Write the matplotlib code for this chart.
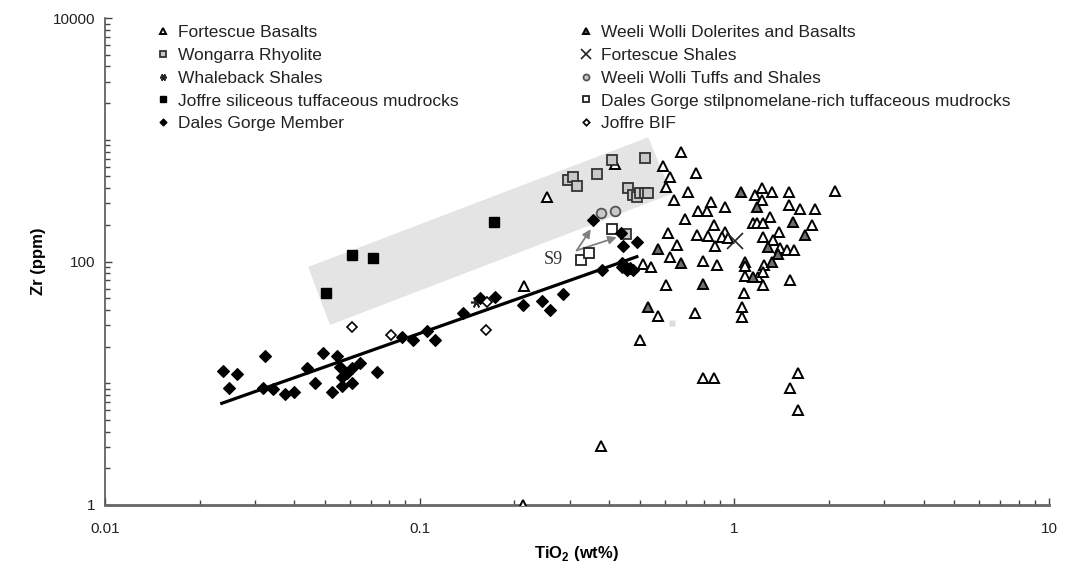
import numpy as np
import matplotlib
matplotlib.use("Agg")
import matplotlib.pyplot as plt
from matplotlib.ticker import LogLocator, NullFormatter, FixedLocator

plt.rcParams["font.family"] = ["Liberation Sans", "DejaVu Sans"]
plt.rcParams["mathtext.fontset"] = "custom"
plt.rcParams["mathtext.bf"] = "Liberation Sans:bold"
plt.rcParams["mathtext.rm"] = "Liberation Sans"

# ---- data (TiO2 wt%, Zr ppm) ----
fortescue_basalts_x = [0.213, 0.377, 0.253, 0.418, 0.214, 0.595, 0.625, 0.676, 0.757, 0.606,
                       0.714, 0.645, 0.841, 0.768, 0.820, 0.934, 0.697, 0.861, 0.614, 0.759,
                       0.827, 0.934, 0.911, 0.868, 0.957, 0.656, 0.625, 0.511, 0.542, 0.796,
                       0.883, 0.605, 0.573, 0.750, 0.501, 1.163, 1.222, 1.314, 1.491, 1.222,
                       1.491, 1.616, 1.808, 1.298, 1.143, 1.182, 1.230, 1.769, 1.390, 1.237,
                       1.330, 1.397, 1.467, 1.547, 1.081, 1.081, 1.242, 1.081, 1.191, 1.237,
                       1.230, 1.502, 1.076, 1.061, 1.061, 2.088, 1.596, 1.502, 1.596, 0.796,
                       0.861]
fortescue_basalts_y = [1.0, 3.05, 341, 632, 63.5, 609, 497, 789, 536, 407,
                       375, 320, 310, 262, 262, 282, 222, 200, 173, 165,
                       162, 176, 160, 134, 155, 136, 108, 95.4, 90.7, 101.5,
                       93.6, 64.1, 35.9, 38.0, 22.7, 352, 399, 370, 375, 320,
                       291, 269, 269, 233, 208, 208, 208, 201, 176, 160,
                       150, 128.5, 124.3, 124.3, 99.6, 91.9, 93.6, 76.0, 75.1, 82.5,
                       64.1, 70.5, 54.8, 42.5, 35.2, 382, 12.07, 9.09, 6.03, 10.98,
                       10.98]

weeli_dolerites_x = [0.572, 0.676, 0.796, 0.531, 1.047, 1.177, 1.539, 1.676, 1.282, 1.379, 1.314, 1.148]
weeli_dolerites_y = [127.5, 96.7, 65.0, 42.3, 375, 282, 212, 164, 132, 115, 99.6, 75.1]

wongarra_x = [0.297, 0.306, 0.316, 0.367, 0.408, 0.520, 0.460, 0.477, 0.490, 0.501, 0.520, 0.533, 0.452]
wongarra_y = [467, 492, 417, 523, 682, 704, 399, 352, 341, 363, 363, 363, 168]

fortescue_shales_x = [1.005]
fortescue_shales_y = [147]

whaleback_x = [0.151]
whaleback_y = [46.8]

weeli_tuffs_x = [0.377, 0.418]
weeli_tuffs_y = [252, 262]

joffre_tuff_x = [0.0608, 0.0709, 0.0504, 0.1727]
joffre_tuff_y = [113, 107.5, 54.8, 210]

dales_stilp_x = [0.408, 0.326, 0.346]
dales_stilp_y = [184, 103, 118]

dales_member_x = [0.0237, 0.0262, 0.0247, 0.0323, 0.0317, 0.0341, 0.0373, 0.0400, 0.0439, 0.0465,
                  0.0494, 0.0545, 0.0525, 0.0558, 0.0565, 0.0586, 0.0608, 0.0565, 0.0608, 0.0646,
                  0.0733, 0.0879, 0.0954, 0.1053, 0.1121, 0.137, 0.1555, 0.1735, 0.2135, 0.2443,
                  0.2596, 0.2861, 0.3788, 0.4387, 0.455, 0.4775, 0.4438, 0.4364, 0.4895, 0.3547,
                  0.466, 0.4387]
dales_member_y = [12.6, 11.98, 9.19, 16.65, 9.19, 8.97, 8.12, 8.52, 13.27, 10.0,
                  17.6, 16.65, 8.52, 13.68, 11.19, 12.07, 13.27, 9.55, 10.0, 14.59,
                  12.44, 23.85, 22.66, 27.0, 22.66, 38.0, 49.9, 51.4, 43.9, 47.7,
                  40.0, 54.1, 85.2, 90.7, 85.2, 85.2, 134.9, 170.5, 144.6, 219,
                  88.0, 96.7]

joffre_bif_x = [0.0608, 0.0809, 0.1633, 0.1628]
joffre_bif_y = [29.0, 25.1, 46.5, 27.2]

stray_x = [0.632]
stray_y = [31.1]

# regression through Dales Gorge Member
fit_x = [0.0235, 0.49]
fit_y = [6.84, 109.5]

# shaded field (corners)
field_x = [0.0442, 0.5327, 0.632, 0.0519]
field_y = [90.2, 1048, 358.5, 30.1]

# S9 arrows
s9_from = (0.3155, 123.2)
s9_to = [(0.3497, 183.9), (0.4227, 158.1)]
s9_label = (0.266, 102.9)

fig = plt.figure(figsize=(10.69, 5.77), dpi=100)
ax = fig.add_axes([105 / 1069, 72 / 577, 944 / 1069, 487 / 577])
ax.set_xscale("log")
ax.set_yscale("log")
ax.set_xlim(0.01, 10)
ax.set_ylim(1, 10000)

ax.fill(field_x, field_y, color="#e4e4e4", lw=0, zorder=1)
ax.plot(fit_x, fit_y, color="black", lw=2.3, zorder=3)

for tx, ty in s9_to:
    ax.annotate("", xy=(tx, ty), xytext=s9_from,
                arrowprops=dict(arrowstyle="-|>", color="#808080", lw=1.3,
                                mutation_scale=12, shrinkA=0, shrinkB=0), zorder=4)
ax.text(s9_label[0], s9_label[1], "S9", family=["Liberation Serif", "DejaVu Serif"],
        fontsize=13, color="#333333", ha="center", va="center", zorder=5)

h = {}
h["fb"], = ax.plot(fortescue_basalts_x, fortescue_basalts_y, ls="none", marker="^", ms=7.5,
                   mfc="white", mec="black", mew=1.4, label="Fortescue Basalts", zorder=5)
h["wr"], = ax.plot(wongarra_x, wongarra_y, ls="none", marker="s", ms=7,
                   mfc="#c8c8c8", mec="#333333", mew=1.3, label="Wongarra Rhyolite", zorder=5)
h["ws"], = ax.plot(whaleback_x, whaleback_y, ls="none", marker=(6, 2, 90), ms=8,
                   mec="#222222", mew=1.2, label="Whaleback Shales", zorder=6)
h["jt"], = ax.plot(joffre_tuff_x, joffre_tuff_y, ls="none", marker="s", ms=7.5,
                   mfc="black", mec="black", mew=1, label="Joffre siliceous tuffaceous mudrocks", zorder=5)
h["dm"], = ax.plot(dales_member_x, dales_member_y, ls="none", marker="D", ms=5.8,
                   mfc="black", mec="black", mew=0.8, label="Dales Gorge Member", zorder=6)
h["wd"], = ax.plot(weeli_dolerites_x, weeli_dolerites_y, ls="none", marker="^", ms=7.5,
                   mfc="#6e6e6e", mec="black", mew=1.4, label="Weeli Wolli Dolerites and Basalts", zorder=5)
h["fs"], = ax.plot(fortescue_shales_x, fortescue_shales_y, ls="none", marker="x", ms=12,
                   mec="#222222", mew=1.2, label="Fortescue Shales", zorder=6)
h["wt"], = ax.plot(weeli_tuffs_x, weeli_tuffs_y, ls="none", marker="o", ms=7,
                   mfc="#c8c8c8", mec="#555555", mew=1.3, label="Weeli Wolli Tuffs and Shales", zorder=5)
h["ds"], = ax.plot(dales_stilp_x, dales_stilp_y, ls="none", marker="s", ms=7,
                   mfc="white", mec="#222222", mew=1.3,
                   label="Dales Gorge stilpnomelane-rich tuffaceous mudrocks", zorder=5)
h["jb"], = ax.plot(joffre_bif_x, joffre_bif_y, ls="none", marker="D", ms=5.3,
                   mfc="white", mec="black", mew=1.2, label="Joffre BIF", zorder=6)
ax.plot(stray_x, stray_y, ls="none", marker="s", ms=5, mfc="#dddddd", mec="none", zorder=2)

order = ["fb", "wr", "ws", "jt", "dm", "wd", "fs", "wt", "ds", "jb"]
leg = ax.legend([h[k] for k in order], [h[k].get_label() for k in order],
                ncol=2, loc="upper left", bbox_to_anchor=(155 / 1069, 1 - 25 / 577),
                bbox_transform=fig.transFigure, frameon=False, fontsize=12.5,
                handlelength=0.9, handletextpad=0.42, columnspacing=6.9,
                labelspacing=0.44, markerscale=0.62, borderpad=0, borderaxespad=0)
for t in leg.get_texts():
    t.set_color("#222222")

# axes styling
for s in ["top", "right"]:
    ax.spines[s].set_visible(False)
ax.spines["left"].set_color("#555555")
ax.spines["left"].set_linewidth(1.2)
ax.spines["bottom"].set_color("#666666")
ax.spines["bottom"].set_linewidth(2.0)

ax.xaxis.set_major_locator(FixedLocator([0.01, 0.1, 1, 10]))
ax.set_xticklabels(["0.01", "0.1", "1", "10"])
ax.xaxis.set_minor_locator(LogLocator(base=10, subs=np.arange(2, 10)))
ax.xaxis.set_minor_formatter(NullFormatter())
ax.yaxis.set_major_locator(FixedLocator([1, 100, 10000]))
ax.set_yticklabels(["1", "100", "10000"])
ax.yaxis.set_minor_locator(LogLocator(base=10, subs=np.arange(1, 10), numticks=20))
ax.yaxis.set_minor_formatter(NullFormatter())
ax.tick_params(which="both", direction="in", color="#444444")
ax.tick_params(which="major", length=5, width=1, labelsize=11, labelcolor="#222222")
ax.tick_params(axis="x", which="major", pad=12)
ax.tick_params(axis="y", which="major", pad=7)
ax.tick_params(which="minor", length=3.5, width=1)

ax.set_xlabel("TiO$_\\mathbf{2}$ (wt%)", fontsize=12, fontweight="bold", labelpad=6)
ax.set_ylabel("Zr (ppm)", fontsize=12, fontweight="bold", labelpad=5)

fig.savefig("out.png", dpi=100)
